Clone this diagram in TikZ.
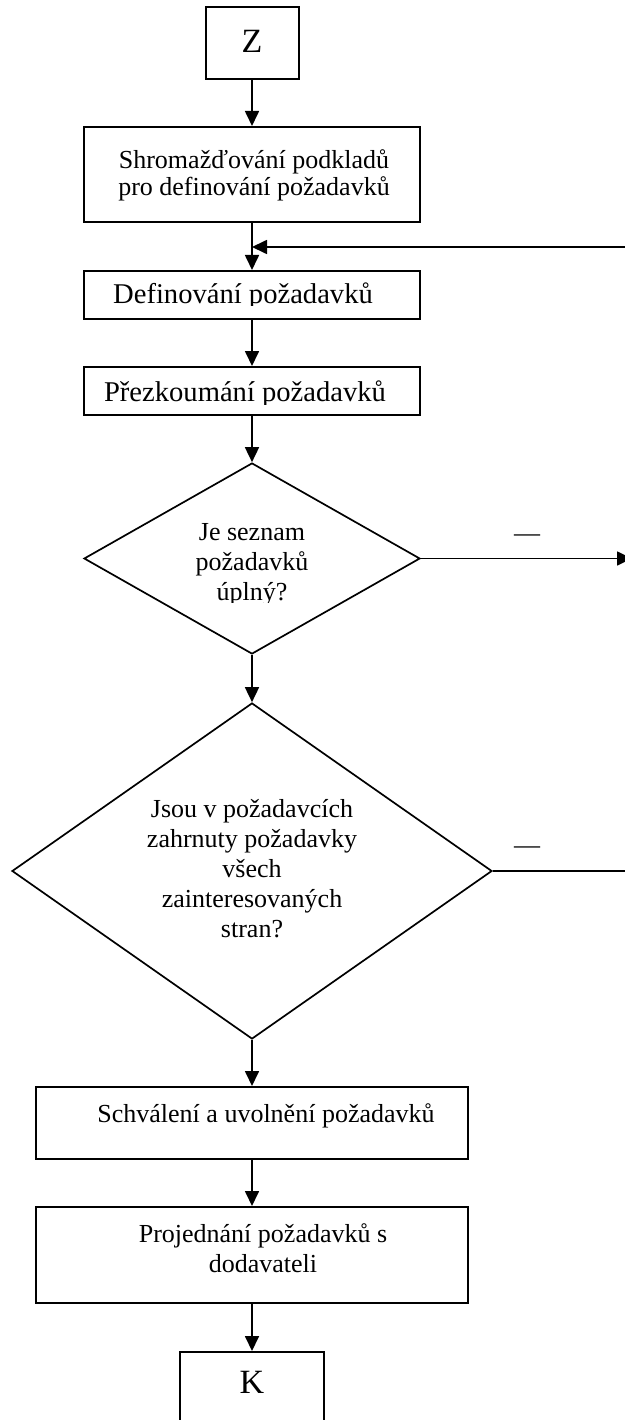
\documentclass[tikz,border=0pt]{standalone}
\usepackage{fontspec}
\setmainfont{Liberation Serif}
\usetikzlibrary{shapes.geometric,arrows.meta}
\newcommand{\tlines}[2][1]{\renewcommand{\arraystretch}{#1}\begin{tabular}[t]{@{}c@{}}#2\end{tabular}}
\begin{document}
\begin{tikzpicture}[x=1pt,y=-1pt,
  box/.style={draw,line width=2pt,rectangle,inner sep=0pt},
  dec/.style={draw,line width=1.7pt,diamond,inner sep=0pt},
  txt/.style={inner sep=0pt,font=\fontsize{26}{30}\selectfont,anchor=base},
  bigtxt/.style={txt,font=\fontsize{28.6}{33}\selectfont},
  endtxt/.style={txt,font=\fontsize{34}{40}\selectfont},
  conn/.style={line width=1.7pt,-{Triangle[length=15pt,width=14pt]}},
  plain/.style={line width=1.7pt}]
\useasboundingbox (0,0) rectangle (624,1420);
\fill[white] (0,0) rectangle (624,1420);

% boxes
\node[box,minimum width=93pt,minimum height=72pt] (z) at (252,43) {};
\node[endtxt] (zt) at (252,53) {Z};

\node[box,minimum width=336pt,minimum height=95pt] (b1) at (252,174.5) {};
\node[txt] (b1t) at (254,169) {\tlines[0.9]{Shromažďování podkladů\\pro definování požadavků}};

\node[box,minimum width=336pt,minimum height=48pt] (b2) at (252,295) {};
\begin{scope}
  \clip (84,271) rectangle (420,306);
  \node[bigtxt] (b2t) at (243,304) {Definování požadavků};
\end{scope}

\node[box,minimum width=336pt,minimum height=48pt] (b3) at (252,391) {};
\begin{scope}
  \clip (84,367) rectangle (420,404);
  \node[bigtxt] (b3t) at (245,401) {Přezkoumání požadavků};
\end{scope}

\node[dec,minimum width=336pt,minimum height=191pt] (d1) at (252,558.5) {};
\begin{scope}
  \clip (84,463) rectangle (420,602);
  \node[txt] (d1t) at (252,540) {\tlines{Je seznam\\požadavků\\úplný?}};
\end{scope}

\node[dec,minimum width=480pt,minimum height=336pt] (d2) at (252,871) {};
\node[txt] (d2t) at (252,817) {\tlines{Jsou v požadavcích\\zahrnuty požadavky\\všech\\zainteresovaných\\stran?}};

\node[box,minimum width=432pt,minimum height=72pt] (b5) at (252,1123) {};
\node[txt] (b5t) at (266,1122) {Schválení a uvolnění požadavků};

\node[box,minimum width=432pt,minimum height=96pt] (b6) at (252,1255) {};
\node[txt] (b6t) at (263,1242) {\tlines{Projednání požadavků s\\dodavateli}};

\node[box,minimum width=144pt,minimum height=72pt] (k) at (252,1388) {};
\node[endtxt] (kt) at (252,1393) {K};

% connectors
\draw[conn] (z.south) -- (b1.north);
\draw[conn] (b1.south) -- (b2.north);
\coordinate (fbR) at (630,247);
\draw[conn] (fbR) -- (b1.south |- fbR);
\draw[conn] (b2.south) -- (b3.north);
\draw[conn] (b3.south) -- (d1.north);
\coordinate (r1) at (632,558.5);
\draw[conn] (d1.east) -- (r1);
\node[txt] (n1) at (527,541) {—};
\draw[conn] (d1.south) -- (d2.north);
\coordinate (r2) at (630,871);
\draw[plain] (d2.east) -- (r2);
\node[txt] (n2) at (527,853) {—};
\draw[conn] (d2.south) -- (b5.north);
\draw[conn] (b5.south) -- (b6.north);
\draw[conn] (b6.south) -- (k.north);
\end{tikzpicture}
\end{document}
